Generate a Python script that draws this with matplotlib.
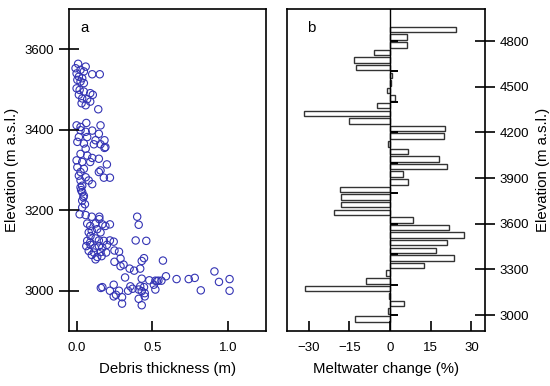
import numpy as np
import matplotlib.pyplot as plt

plt.rcParams['font.family'] = ['Liberation Sans', 'DejaVu Sans']

# panel a: debris thickness (m) vs elevation (m a.s.l.)
debris = [
    0.01, 0.06, -0.007, 0.026, 0.048, 0.103, 0.153, 0.0, 0.015, 0.037, 0.005, 0.026, 0.048,
    0.0, 0.02, 0.048, 0.09, 0.107, 0.015, 0.037, 0.07, 0.09, 0.033, 0.06, 0.143,
    0.0, 0.026, 0.064, 0.158, 0.026, 0.06, 0.103, 0.147, 0.015, 0.07, 0.125, 0.184,
    0.005, 0.048, 0.114, 0.158, 0.184, 0.06, 0.026, 0.07, 0.103, 0.147, 0.0, 0.037, 0.09,
    0.2, 0.005, 0.048, 0.026, 0.158, 0.18, 0.22, 0.147, 0.015, 0.06, 0.08, 0.026, 0.037, 0.103,
    0.19, 0.026, 0.037, 0.048, 0.037, 0.055, 0.037, 0.045, 0.03,
    0.02, 0.06, 0.10, 0.15, 0.15, 0.22, 0.07, 0.09, 0.125, 0.17, 0.19,
    0.10, 0.136, 0.158, 0.092, 0.125, 0.147, 0.18, 0.22, 0.245,
    0.064, 0.092, 0.12, 0.147, 0.17, 0.20, 0.08, 0.114, 0.158, 0.195, 0.25, 0.28,
    0.10, 0.136, 0.165, 0.125, 0.07, 0.08, 0.09,
    0.40, 0.41, 0.39, 0.46, 0.57, 0.445, 0.43, 0.42, 0.38, 0.35, 0.31, 0.29, 0.25, 0.29,
    0.32, 0.43, 0.48, 0.52, 0.54, 0.56, 0.59, 0.66, 0.74, 0.78, 0.91, 0.94, 1.01, 0.82, 1.01,
    0.17, 0.16, 0.245, 0.22, 0.28, 0.26, 0.245, 0.30, 0.30, 0.34, 0.355, 0.37,
    0.41, 0.42, 0.43, 0.445, 0.45, 0.45, 0.41, 0.43, 0.51, 0.52, 0.53,
]
elev_a = [
    3564, 3557, 3553, 3549, 3545, 3538, 3538, 3540, 3532, 3528, 3524, 3520, 3516,
    3503, 3499, 3495, 3491, 3487, 3487, 3478, 3476, 3470, 3466, 3461, 3451,
    3411, 3407, 3417, 3411, 3399, 3395, 3398, 3390, 3382, 3382, 3374, 3374,
    3370, 3366, 3364, 3364, 3355, 3353, 3340, 3336, 3330, 3328, 3324, 3320, 3320,
    3314, 3307, 3303, 3295, 3299, 3281, 3281, 3295, 3286, 3282, 3274, 3274, 3261, 3265,
    3357, 3257, 3245, 3236, 3224, 3215, 3207, 3232, 3250,
    3190, 3188, 3184, 3184, 3178, 3165, 3167, 3161, 3167, 3165, 3161,
    3149, 3153, 3145, 3136, 3130, 3125, 3124, 3125, 3122,
    3111, 3114, 3107, 3111, 3107, 3114, 3099, 3095, 3096, 3095, 3100, 3097,
    3089, 3084, 3086, 3078, 3124, 3145, 3120,
    3184, 3164, 3125, 3124, 3075, 3081, 3074, 3055, 3050, 3055, 3065, 3061, 3072, 3080,
    3033, 3030, 3026, 3025, 3025, 3025, 3036, 3029, 3029, 3032, 3048, 3022, 3029, 3001, 3000,
    3009, 3007, 3015, 3000, 3000, 2990, 2986, 2984, 2968, 3000, 3011, 3005,
    3003, 3011, 2999, 3009, 2994, 2986, 2980, 2964, 3015, 3003, 3024,
]

# panel b: meltwater change (%) per 50 m elevation band
band_elev = list(range(2975, 4876, 50))
melt_change = [
    -13.0, -0.9, 5.2, -0.3, -31.4, -8.7, -1.4, 12.6, 23.7, 17.1,
    20.9, 27.1, 21.7, 8.4, -20.6, -18.2, -18.2, -18.5, 6.7, 4.7,
    21.1, 18.0, 6.7, -0.8, 19.8, 20.2, -15.2, -31.9, -4.8, 1.8,
    -1.1, 0.3, 0.6, -12.7, -13.4, -5.9, 6.2, 6.2, 24.3,
]

fig = plt.figure(figsize=(5.5, 3.86), dpi=100)
ax1 = fig.add_axes([0.1255, 0.1425, 0.358, 0.834])
ax2 = fig.add_axes([0.5218, 0.1425, 0.360, 0.834])

ax1.scatter(debris, elev_a, s=28, facecolors='none', edgecolors='#3434b4', linewidths=0.8)
ax1.set_xlim(-0.05, 1.25)
ax1.set_ylim(2900, 3700)
ax1.set_xticks([0.0, 0.5, 1.0])
ax1.set_xticklabels(['0.0', '0.5', '1.0'])
ax1.set_yticks([3000, 3200, 3400, 3600])
ax1.tick_params(axis='x', direction='in', length=7, width=1.2, labelsize=9.5, pad=8)
ax1.tick_params(axis='y', direction='inout', length=14, width=1.2, labelsize=9.5)
ax1.set_xlabel('Debris thickness (m)', fontsize=10.8, labelpad=6)
ax1.set_ylabel('Elevation (m a.s.l.)', fontsize=10.8, labelpad=4)
ax1.text(0.06, 0.94, 'a', transform=ax1.transAxes, fontsize=10.8, va='center')

ax2.barh(band_elev, melt_change, height=36, color='white', edgecolor='#333333', linewidth=1.0)
ax2.axvline(0, color='black', linewidth=1.0)
ax2.hlines(range(3000, 4801, 200), 0, 2.9, color='black', linewidth=1.4)
ax2.set_xlim(-38, 35)
ax2.set_ylim(2895, 5010)
ax2.set_xticks([-30, -15, 0, 15, 30])
ax2.yaxis.tick_right()
ax2.yaxis.set_label_position('right')
ax2.set_yticks(range(3000, 4801, 300))
ax2.tick_params(axis='x', direction='in', length=7, width=1.2, labelsize=9.5, pad=8)
ax2.tick_params(axis='y', direction='inout', length=14, width=1.2, labelsize=9.5)
ax2.set_xlabel('Meltwater change (%)', fontsize=10.8, labelpad=6)
ax2.set_ylabel('Elevation (m a.s.l.)', fontsize=10.8, labelpad=5)
ax2.text(0.1, 0.94, 'b', transform=ax2.transAxes, fontsize=10.8, va='center')

for ax in (ax1, ax2):
    for sp in ax.spines.values():
        sp.set_linewidth(1.2)

fig.savefig('out.png', dpi=100)
